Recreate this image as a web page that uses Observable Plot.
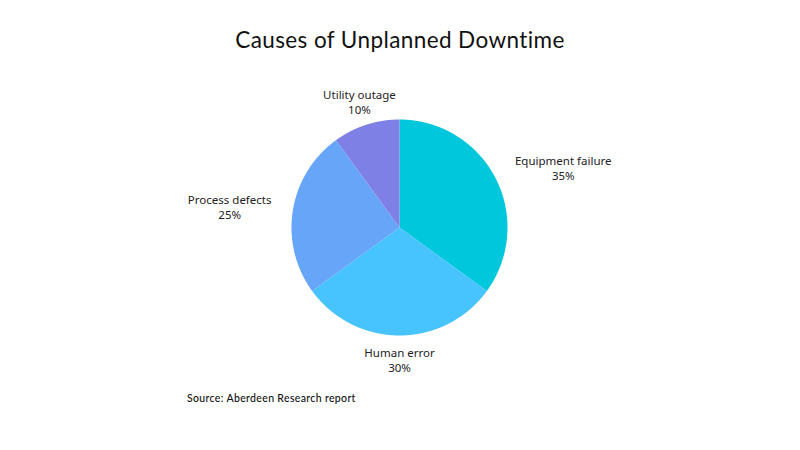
<!DOCTYPE html>
<html>
<head>
<meta charset="utf-8">
<script src="https://cdn.jsdelivr.net/npm/d3@7"></script>
<script src="https://cdn.jsdelivr.net/npm/@observablehq/plot@0.6"></script>
<style>
  html, body { margin: 0; padding: 0; background: #ffffff; }
  #wrap { position: relative; width: 800px; height: 450px; overflow: hidden; }
  #title { position: absolute; left: 0; width: 800px; top: 26px; text-align: center;
           font-family: Lato, "Noto Sans", sans-serif; font-size: 22.5px; color: #111; font-weight: 400;
           letter-spacing: 0.4px; }
  #source { position: absolute; left: 187px; top: 392px;
            font-family: Lato, "Noto Sans", sans-serif; font-size: 10.5px; color: #111; font-weight: 500;
            letter-spacing: 0.35px; }
  #chart { position: absolute; left: 0; top: 0; }
</style>
</head>
<body>
<div id="wrap">
  <div id="chart"></div>
  <div id="title">Causes of Unplanned Downtime</div>
  <div id="source">Source: Aberdeen Research report</div>
</div>
<script>
const categories = ["Equipment failure", "Human error", "Process defects", "Utility outage"];
const values = [35, 30, 25, 10];
const colors = ["#00C7DB", "#47C3FD", "#66A5F8", "#7F80E6"];

const W = 800, H = 450, cx = 399, cy = 227, R = 108;
const fontSize = 11.5, fontFamily = "'Noto Sans', sans-serif";

// Build pie slices (angles clockwise from 12 o'clock)
const total = d3.sum(values);
let acc = 0;
const slices = categories.map((c, i) => {
  const a0 = acc / total * 2 * Math.PI;
  acc += values[i];
  const a1 = acc / total * 2 * Math.PI;
  return {category: c, value: values[i], a0, a1, mid: (a0 + a1) / 2};
});

// Slice polygons in unit-circle data space
const polyPts = [];
for (const s of slices) {
  polyPts.push({category: s.category, u: 0, v: 0});
  const n = Math.max(2, Math.ceil((s.a1 - s.a0) / (Math.PI / 360)));
  for (let k = 0; k <= n; k++) {
    const a = s.a0 + (s.a1 - s.a0) * k / n;
    polyPts.push({category: s.category, u: Math.sin(a), v: Math.cos(a)});
  }
  polyPts.push({category: s.category, u: 0, v: 0});
}

// Label text measurement, for centered blocks placed beside the pie
const ctx = document.createElement("canvas").getContext("2d");
ctx.font = `${fontSize}px ${fontFamily}`;
const labelRu = 1.2, labelRv = 1.225;
const labels = slices.map(s => {
  const lines = [s.category, `${s.value}%`];
  const w = d3.max(lines, l => ctx.measureText(l).width) / R;
  const su = Math.sin(s.mid), cv = Math.cos(s.mid);
  let u = labelRu * su;
  if (Math.abs(su) > 0.85) u += (su > 0 ? 1 : -1) * w / 2;
  return {text: lines.join("\n"), u, v: labelRv * cv};
});

const plot = Plot.plot({
  width: W, height: H,
  margin: 0,
  x: {domain: [-cx / R, (W - cx) / R], axis: null},
  y: {domain: [-(H - cy) / R, cy / R], axis: null},
  color: {domain: categories, range: colors},
  style: {background: "transparent"},
  marks: [
    Plot.line(polyPts, {x: "u", y: "v", z: "category", fill: "category", stroke: "none", curve: "linear"}),
    Plot.text(labels, {
      x: "u", y: "v", text: "text", textAnchor: "middle", lineAnchor: "middle",
      lineHeight: 1.3, fontSize, fill: "#222", fontFamily
    })
  ]
});
document.getElementById("chart").appendChild(plot);
</script>
</body>
</html>
